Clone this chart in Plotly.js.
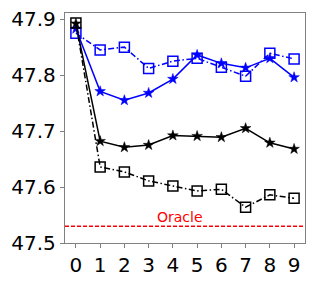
<!DOCTYPE html>
<html><head><meta charset="utf-8">
<script src="https://cdn.plot.ly/plotly-3.0.1.min.js"></script>
<style>body{margin:0;padding:0;background:#fff}#chart{width:316px;height:281px}</style>
</head><body><div id="chart"></div>
<script>
const xs = [0,1,2,3,4,5,6,7,8,9];
const blueStar = [47.883,47.771,47.755,47.768,47.793,47.836,47.821,47.813,47.830,47.796];
const blueSquare = [47.875,47.845,47.850,47.812,47.825,47.830,47.814,47.798,47.839,47.829];
const blackStar = [47.892,47.682,47.671,47.675,47.692,47.691,47.689,47.705,47.679,47.668];
const blackSquare = [47.893,47.636,47.627,47.611,47.602,47.593,47.596,47.564,47.586,47.580];
const oracle = 47.530;
const oracleLabel = "Oracle";

function tr(y, color, sym, dash){
  const sq = sym === 'square-open';
  return {x: xs, y: y, type:'scatter', mode:'lines+markers',
    line:{color:color, width:1.5, dash:dash},
    marker:{symbol:sym, size: sq ? 10 : 8, color: color, line:{color:color, width: sq ? 1.5 : 0.5}},
    showlegend:false, cliponaxis:false};
}
const dd = '6px,2.5px,1.5px,2.5px';
const data = [
  tr(blueSquare,'#0000ff','square-open',dd),
  tr(blueStar,'#0000ff','star','solid'),
  tr(blackSquare,'#000000','square-open',dd),
  tr(blackStar,'#000000','star','solid'),
];
const layout = {
  width:316, height:281,
  margin:{l:65, r:11, t:13, b:38},
  paper_bgcolor:'#fff', plot_bgcolor:'#fff',
  font:{family:'DejaVu Sans', size:20, color:'#000'},
  xaxis:{range:[-0.45,9.45], tickvals:xs, ticktext:xs.map(String), showgrid:false, zeroline:false,
    showline:true, mirror:true, linecolor:'#808080', linewidth:1.2, ticks:'outside', ticklen:4, tickcolor:'#808080',
    tickfont:{size:20}},
  yaxis:{range:[47.5,47.911], tickvals:[47.5,47.6,47.7,47.8,47.9], ticktext:['47.5','47.6','47.7','47.8','47.9'],
    showgrid:false, zeroline:false, showline:true, mirror:true, linecolor:'#808080', linewidth:1.2,
    ticks:'outside', ticklen:4, tickcolor:'#808080', tickfont:{size:20}},
  shapes:[{type:'line', xref:'paper', x0:0, x1:1, yref:'y', y0:oracle, y1:oracle,
    line:{color:'#ff0000', width:1.5, dash:'4px,2px'}}],
  annotations:[{x:4.28, y:oracle, xref:'x', yref:'y', yanchor:'bottom', yshift:-1, text:oracleLabel, showarrow:false,
    font:{color:'#ff0000', size:14, family:'DejaVu Sans'}}]
};
Plotly.newPlot('chart', data, layout, {displayModeBar:false, staticPlot:true});
</script></body></html>
